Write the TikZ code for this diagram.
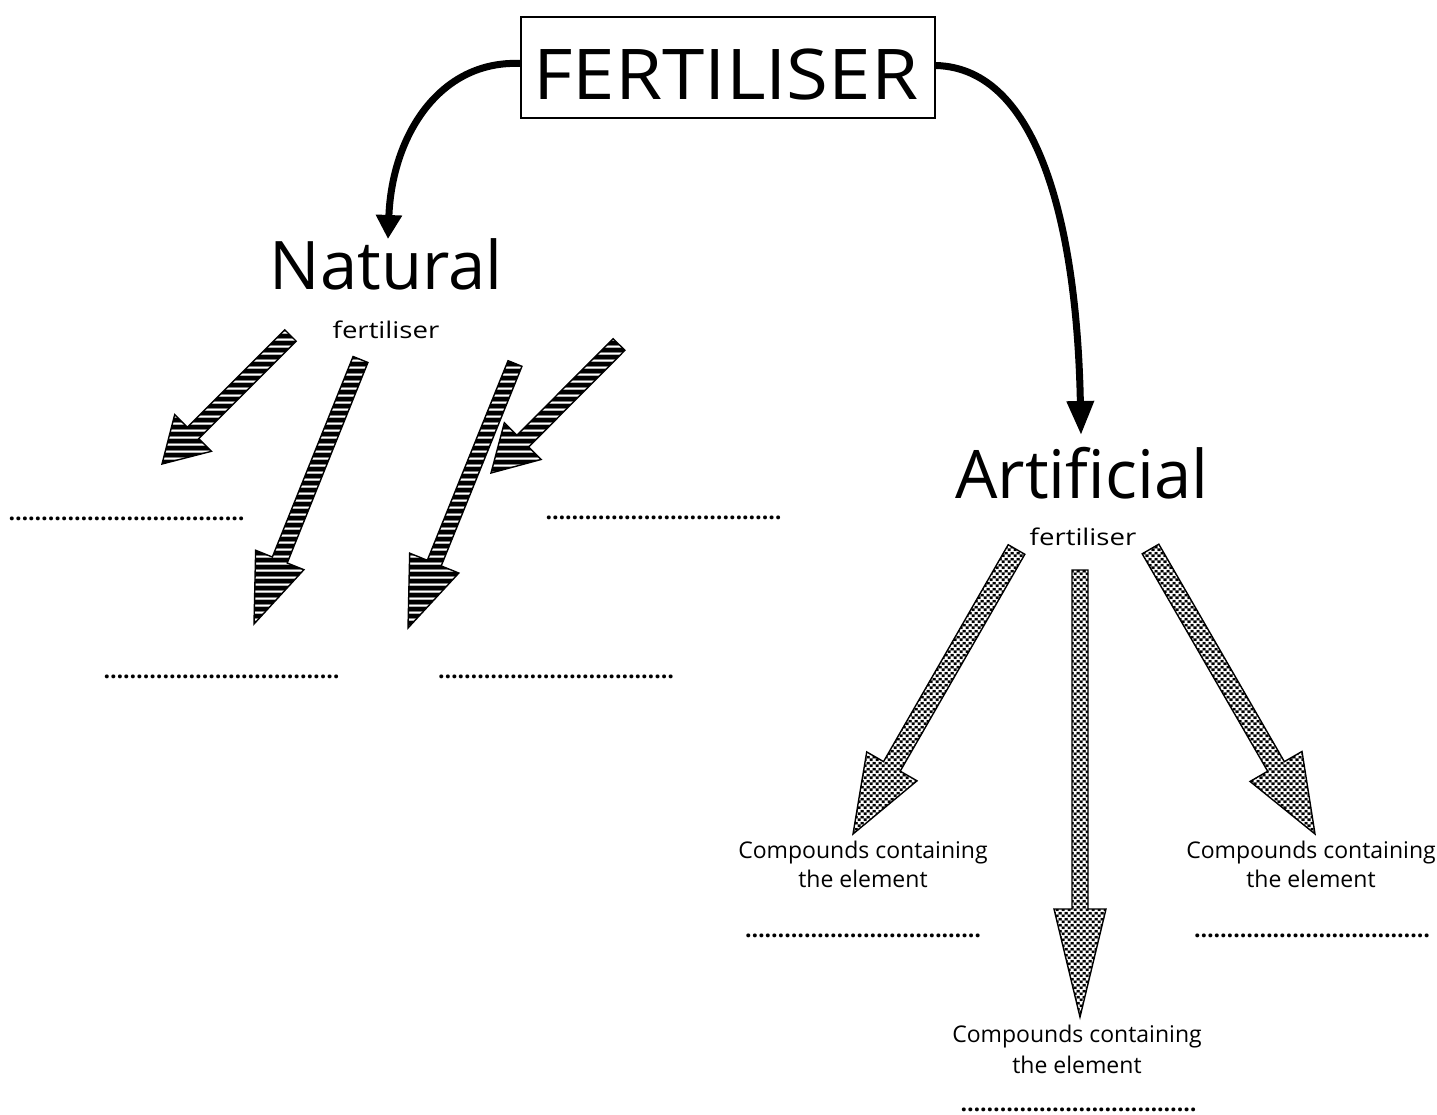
\documentclass[tikz,border=0pt]{standalone}
\usepackage{fontspec}
\setmainfont{Open Sans}
\usetikzlibrary{calc,patterns,arrows.meta}

\pgfdeclarepatterninherentlycolored{fchecks}{\pgfpointorigin}{\pgfqpoint{6pt}{6pt}}{\pgfqpoint{6pt}{6pt}}{%
 \pgfsetfillcolor{gray!85!black}\pgfpathrectangle{\pgfpointorigin}{\pgfqpoint{6pt}{6pt}}\pgfusepath{fill}%
 \pgfsetfillcolor{black}\pgfpathrectangle{\pgfqpoint{0.2pt}{0.2pt}}{\pgfqpoint{2.6pt}{2.6pt}}\pgfpathrectangle{\pgfqpoint{3.2pt}{3.2pt}}{\pgfqpoint{2.6pt}{2.6pt}}\pgfusepath{fill}%
 \pgfsetfillcolor{white}\pgfpathrectangle{\pgfqpoint{3.2pt}{0.2pt}}{\pgfqpoint{2.6pt}{2.6pt}}\pgfpathrectangle{\pgfqpoint{0.2pt}{3.2pt}}{\pgfqpoint{2.6pt}{2.6pt}}\pgfusepath{fill}}

% outline of a fat arrow: #1 name, #2 tail, #3 tip, #4 shaft half width, #5 head half width
\newcommand\fatshape[5]{($(#2)!#4!90:(#3)$) -- ($(#1-hb)!#4!90:(#3)$) -- ($(#1-hb)!#5!90:(#3)$) -- (#3)
   -- ($(#1-hb)!#5!-90:(#3)$) -- ($(#1-hb)!#4!-90:(#3)$) -- ($(#2)!#4!-90:(#3)$) -- cycle}
% checked arrow: #1 name, #2 tail, #3 tip, #4 w, #5 W, #6 head length
\newcommand\checkarrow[6]{%
 \coordinate (#1-hb) at ($(#3)!#6!(#2)$);
 \path[checked] \fatshape{#1}{#2}{#3}{#4}{#5};
}
% striped arrow
\newcommand\stripearrow[6]{%
 \coordinate (#1-hb) at ($(#3)!#6!(#2)$);
 \begin{scope}
 \clip \fatshape{#1}{#2}{#3}{#4}{#5};
 \fill[white] (100,320) rectangle (700,650);
 \foreach \yy in {320,327,...,650}{
   \fill[black] (100,\yy) rectangle (700,\yy+3.5);
   \fill[gray] (100,\yy+3.5) rectangle (700,\yy+4.5);
   \fill[gray!60] (100,\yy-0.8) rectangle (700,\yy);
 }
 \end{scope}
 \draw[line width=1.4pt, line join=miter] \fatshape{#1}{#2}{#3}{#4}{#5};
}
\def\twoel{……}
\newcommand\blankline{\bfseries\twoel\twoel\twoel\twoel\twoel\twoel}

\begin{document}
\begin{tikzpicture}[x=1pt,y=-1pt,
  checked/.style={draw=black, line width=1.4pt, pattern=fchecks, line join=miter},
  bigtxt/.style={font=\fontsize{70}{84}\selectfont, inner sep=0pt, anchor=base},
  midtxt/.style={font=\fontsize{67}{80}\selectfont, inner sep=0pt, anchor=base},
  smalltxt/.style={font=\fontsize{23}{28}\selectfont, inner sep=0pt, anchor=base},
  dotstxt/.style={font=\fontsize{23}{28}\selectfont, inner sep=0pt, anchor=base},
  curve/.style={line width=7pt}]
\useasboundingbox (0,0) rectangle (1437,1115);

% title box
\node[draw, line width=1.3pt, minimum width=414pt, minimum height=101pt, inner sep=0pt] (F) at (728,67.5) {};
\node[bigtxt] (Ft) at (726,100) {\scalebox{1.09}[1]{FERTILISER}};

% branch titles
\node[midtxt] (nat) at (386,290) {Natural};
\node[smalltxt] (natf) at (386,338) {\scalebox{1.2}[1]{fertiliser}};
\node[midtxt] (art) at (1082,498) {Artificial};
\node[smalltxt] (artf) at (1083,545) {\scalebox{1.2}[1]{fertiliser}};

\coordinate (nIn) at (388,239);
\coordinate (aIn) at (1081,435);
\draw[curve, -{Triangle[length=24pt,width=25pt]}] ([yshift=4pt]F.west) .. controls (440,60) and (392,135) .. (nIn);
\draw[curve, -{Triangle[length=34pt,width=26pt]}] ([yshift=2pt]F.east) .. controls (1040,68) and (1077,230) .. (aIn);

% natural branch arrows
\coordinate (tA) at (290.5,335.5); \coordinate (pA) at (162,464);
\coordinate (tB) at (360.5,359.5); \coordinate (pB) at (254,624);
\coordinate (tC) at (515,363.5);   \coordinate (pC) at (408,628);
\coordinate (tD) at (619,344.5);   \coordinate (pD) at (491,473);
\stripearrow{aA}{tA}{pA}{8pt}{26pt}{44pt}
\stripearrow{aB}{tB}{pB}{8pt}{26pt}{69pt}
\stripearrow{aD}{tD}{pD}{8.3pt}{26pt}{45pt}
\stripearrow{aC}{tC}{pC}{7.5pt}{26.5pt}{70pt}

% artificial branch arrows
\coordinate (tE) at (1016.5,549.5); \coordinate (pE) at (853,834);
\coordinate (tM) at (1080,570);     \coordinate (pM) at (1080,1017);
\coordinate (tG) at (1150.5,549);   \coordinate (pG) at (1315,834);
\checkarrow{aE}{tE}{pE}{9.6pt}{29pt}{78pt}
\checkarrow{aM}{tM}{pM}{8pt}{26pt}{108pt}
\checkarrow{aG}{tG}{pG}{9.6pt}{30pt}{78pt}

% blanks
\node[dotstxt] (d1) at (126.5,520) {\blankline};
\node[dotstxt] (d2) at (663.5,519) {\blankline};
\node[dotstxt] (d3) at (221.5,678) {\blankline};
\node[dotstxt] (d4) at (556,678) {\blankline};

\node[smalltxt] (c1a) at (863,858) {Compounds containing};
\node[smalltxt] (c1b) at (863,887) {the element};
\node[dotstxt] (d5) at (863,937) {\blankline};

\node[smalltxt] (c2a) at (1311,858) {Compounds containing};
\node[smalltxt] (c2b) at (1311,887) {the element};
\node[dotstxt] (d6) at (1312,937) {\blankline};

\node[smalltxt] (c3a) at (1077,1042) {Compounds containing};
\node[smalltxt] (c3b) at (1077,1073) {the element};
\node[dotstxt] (d7) at (1078.5,1111) {\blankline};
\end{tikzpicture}
\end{document}
